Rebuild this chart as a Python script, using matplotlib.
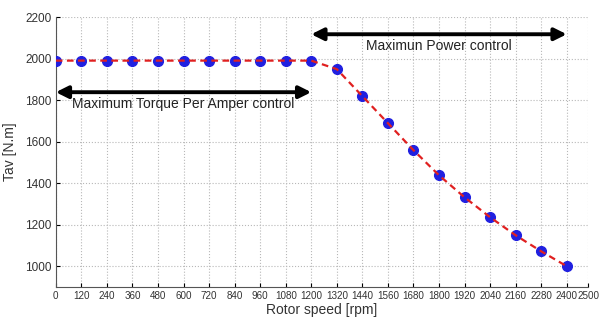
import matplotlib
matplotlib.use("Agg")
import matplotlib.pyplot as plt

plt.rcParams['font.family'] = ['Liberation Sans', 'DejaVu Sans']

speed = [0, 120, 240, 360, 480, 600, 720, 840, 960, 1080, 1200,
         1320, 1440, 1560, 1680, 1800, 1920, 2040, 2160, 2280, 2400]
torque = [1990, 1990, 1990, 1990, 1990, 1990, 1990, 1990, 1990, 1990, 1990,
          1949, 1819, 1689, 1559, 1438, 1332, 1236, 1149, 1072, 1000]
xticks = [0, 120, 240, 360, 480, 600, 720, 840, 960, 1080, 1200, 1320, 1440,
          1560, 1680, 1800, 1920, 2040, 2160, 2280, 2400, 2500]
yticks = [1000, 1200, 1400, 1600, 1800, 2000, 2200]

fig = plt.figure(figsize=(6, 3.18), dpi=100)
ax = fig.add_axes([0.093, 0.0975, 0.887, 0.849])

ax.plot(speed, torque, linestyle='none', marker='o', markersize=7,
        markerfacecolor='#2020e0', markeredgecolor='#2020e0', zorder=3)
ax.plot(speed, torque, color='#e02020', linestyle='--', linewidth=1.6,
        dashes=(3, 2), zorder=4)

ax.set_xlim(0, 2500)
ax.set_ylim(900, 2200)
ax.set_xticks(xticks)
ax.set_yticks(yticks)
ax.tick_params(axis='both', length=3, direction='in', pad=3, labelcolor='#333333')
ax.tick_params(axis='x', labelsize=7.1)
ax.tick_params(axis='y', labelsize=8.5)
ax.grid(True, linestyle=':', color='#b8b8b8', linewidth=0.8)
ax.spines['top'].set_visible(False)
ax.spines['right'].set_visible(False)
for s in ('left', 'bottom'):
    ax.spines[s].set_color('#555555')
ax.set_xlabel('Rotor speed [rpm]', fontsize=10, labelpad=1, color='#333333')
ax.set_ylabel('Tav [N.m]', fontsize=10, labelpad=6, color='#333333')

ax.annotate('', xy=(2400, 2117), xytext=(1200, 2117),
            arrowprops=dict(arrowstyle='<|-|>', color='black', lw=2.8,
                            mutation_scale=18, shrinkA=0, shrinkB=0))
ax.text(1800, 2060, 'Maximun Power control', ha='center', va='center',
        fontsize=10, color='#222222')

ax.annotate('', xy=(0, 1838), xytext=(1200, 1838),
            arrowprops=dict(arrowstyle='<|-|>', color='black', lw=2.8,
                            mutation_scale=18, shrinkA=0, shrinkB=0))
ax.text(600, 1783, 'Maximum Torque Per Amper control', ha='center', va='center',
        fontsize=10, color='#222222')

fig.savefig('out.png', dpi=100)
